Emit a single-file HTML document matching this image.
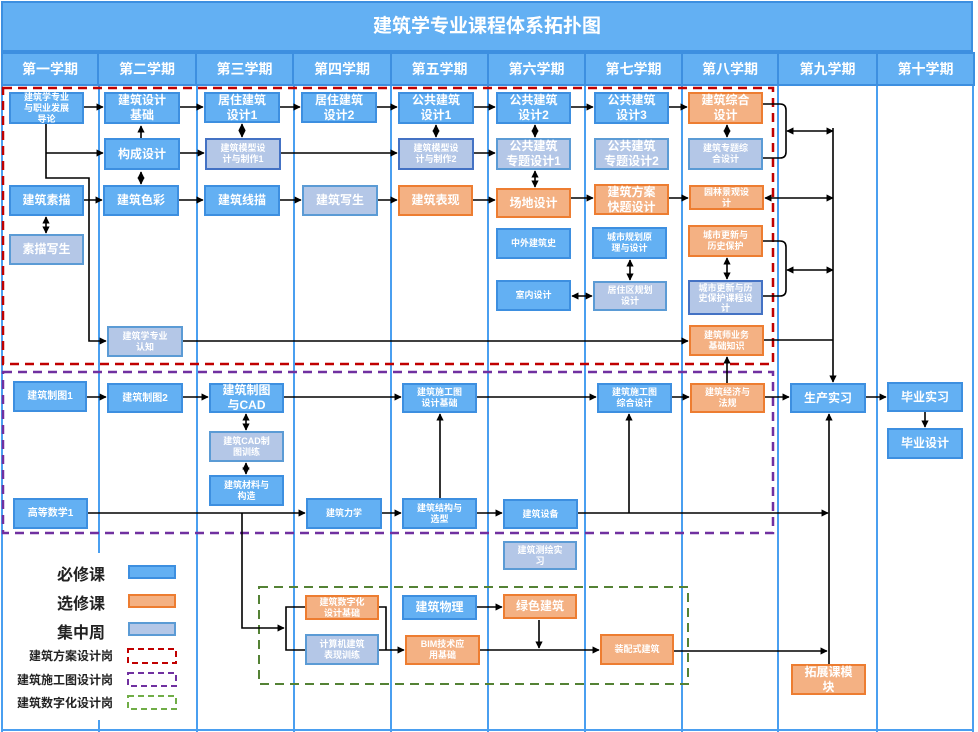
<!DOCTYPE html>
<html><head><meta charset="utf-8"><style>
*{margin:0;padding:0;box-sizing:border-box}
body{width:978px;height:732px;background:#fff;position:relative;overflow:hidden;font-family:"Liberation Sans","Noto Sans CJK SC",sans-serif}
.t{position:absolute;left:1px;top:1px;width:972px;height:51px;background:#63b0f3;border:2px solid #3d8fe0;color:#fff;font-weight:bold;font-size:19px;text-align:center;line-height:47px}
.h{position:absolute;top:52px;height:34px;background:#63b0f3;border:2px solid #3d8fe0;color:#fff;font-weight:bold;font-size:14px;text-align:center;line-height:30px}
.c{position:absolute;top:86px;height:646px;border-left:2px solid #4a9ff0}
.b{position:absolute;display:flex;align-items:center;justify-content:center;text-align:center;color:#fff;font-weight:bold;font-size:12px;line-height:15px;border:2px solid #3d8fe0;background:#63b0f3}
.o{background:#f4b183;border-color:#ed7d31}
.l{background:#b4c7e7;border-color:#5b9bd5}
.s{font-size:9px;line-height:11px}
.m{font-size:10px;line-height:13px}
.lg{position:absolute;font-weight:bold;color:#222;text-align:right}
</style></head><body>
<div class="t">建筑学专业课程体系拓扑图</div>
<div class="h" style="left:1px;width:98px">第一学期</div>
<div class="h" style="left:97px;width:100px">第二学期</div>
<div class="h" style="left:195px;width:99px">第三学期</div>
<div class="h" style="left:292px;width:100px">第四学期</div>
<div class="h" style="left:390px;width:99px">第五学期</div>
<div class="h" style="left:487px;width:99px">第六学期</div>
<div class="h" style="left:584px;width:99px">第七学期</div>
<div class="h" style="left:681px;width:98px">第八学期</div>
<div class="h" style="left:777px;width:101px">第九学期</div>
<div class="h" style="left:876px;width:99px">第十学期</div>
<div class="c" style="left:1px"></div>
<div class="c" style="left:98px"></div>
<div class="c" style="left:196px"></div>
<div class="c" style="left:293px"></div>
<div class="c" style="left:390px"></div>
<div class="c" style="left:487px"></div>
<div class="c" style="left:584px"></div>
<div class="c" style="left:681px"></div>
<div class="c" style="left:777px"></div>
<div class="c" style="left:876px"></div>
<div class="c" style="left:972px"></div>
<div style="position:absolute;left:96px;top:553px;width:6px;height:167px;background:#fff"></div>
<div style="position:absolute;left:1px;top:729px;width:973px;border-top:2px solid #4a9ff0"></div>

<svg width="978" height="732" style="position:absolute;left:0;top:0">
<rect x="3" y="88" width="770" height="276" fill="none" stroke="#c00000" stroke-width="2.5" stroke-dasharray="9,6"/>
<rect x="3" y="372" width="770" height="161" fill="none" stroke="#7030a0" stroke-width="2.5" stroke-dasharray="9,6"/>
<rect x="259" y="587" width="429" height="97" fill="none" stroke="#548235" stroke-width="2" stroke-dasharray="9,6"/>
</svg>

<div class="b s" style="left:9px;top:92px;width:75px;height:32px">建筑学专业<br>与职业发展<br>导论</div>
<div class="b" style="left:104px;top:92px;width:76px;height:32px">建筑设计<br>基础</div>
<div class="b" style="left:204px;top:92px;width:76px;height:31px">居住建筑<br>设计1</div>
<div class="b" style="left:301px;top:92px;width:76px;height:31px">居住建筑<br>设计2</div>
<div class="b" style="left:398px;top:92px;width:76px;height:32px">公共建筑<br>设计1</div>
<div class="b" style="left:496px;top:92px;width:75px;height:32px">公共建筑<br>设计2</div>
<div class="b" style="left:594px;top:92px;width:75px;height:32px">公共建筑<br>设计3</div>
<div class="b o" style="left:688px;top:92px;width:75px;height:32px">建筑综合<br>设计</div>
<div class="b" style="left:104px;top:138px;width:76px;height:32px">构成设计</div>
<div class="b l s" style="left:205px;top:138px;width:76px;height:32px;border-color:#4472c4">建筑模型设<br>计与制作1</div>
<div class="b l s" style="left:398px;top:138px;width:76px;height:32px;border-color:#4472c4">建筑模型设<br>计与制作2</div>
<div class="b l" style="left:496px;top:138px;width:75px;height:32px">公共建筑<br>专题设计1</div>
<div class="b l" style="left:594px;top:138px;width:75px;height:32px">公共建筑<br>专题设计2</div>
<div class="b l s" style="left:688px;top:138px;width:75px;height:32px">建筑专题综<br>合设计</div>
<div class="b" style="left:9px;top:185px;width:75px;height:31px">建筑素描</div>
<div class="b" style="left:103px;top:185px;width:76px;height:31px">建筑色彩</div>
<div class="b" style="left:204px;top:185px;width:76px;height:31px">建筑线描</div>
<div class="b l" style="left:302px;top:185px;width:76px;height:31px">建筑写生</div>
<div class="b o" style="left:398px;top:185px;width:75px;height:31px">建筑表现</div>
<div class="b o" style="left:496px;top:188px;width:75px;height:30px">场地设计</div>
<div class="b o" style="left:594px;top:184px;width:75px;height:31px">建筑方案<br>快题设计</div>
<div class="b o s" style="left:689px;top:185px;width:75px;height:25px">园林景观设<br>计</div>
<div class="b l" style="left:9px;top:234px;width:75px;height:31px">素描写生</div>
<div class="b s" style="left:496px;top:228px;width:75px;height:31px">中外建筑史</div>
<div class="b s" style="left:592px;top:227px;width:75px;height:32px">城市规划原<br>理与设计</div>
<div class="b o s" style="left:688px;top:225px;width:75px;height:32px">城市更新与<br>历史保护</div>
<div class="b s" style="left:496px;top:280px;width:75px;height:31px">室内设计</div>
<div class="b l s" style="left:593px;top:281px;width:74px;height:30px">居住区规划<br>设计</div>
<div class="b l s" style="left:688px;top:280px;width:75px;height:35px;border-color:#4472c4;line-height:10px">城市更新与历<br>史保护课程设<br>计</div>
<div class="b l s" style="left:107px;top:326px;width:76px;height:31px">建筑学专业<br>认知</div>
<div class="b o s" style="left:689px;top:325px;width:75px;height:31px">建筑师业务<br>基础知识</div>

<div class="b m" style="left:13px;top:381px;width:74px;height:31px">建筑制图1</div>
<div class="b m" style="left:107px;top:383px;width:76px;height:30px">建筑制图2</div>
<div class="b" style="left:209px;top:383px;width:75px;height:30px">建筑制图<br>与CAD</div>
<div class="b s" style="left:402px;top:383px;width:75px;height:30px">建筑施工图<br>设计基础</div>
<div class="b s" style="left:597px;top:383px;width:75px;height:30px">建筑施工图<br>综合设计</div>
<div class="b o s" style="left:690px;top:383px;width:75px;height:30px">建筑经济与<br>法规</div>
<div class="b" style="left:790px;top:383px;width:76px;height:30px">生产实习</div>
<div class="b" style="left:887px;top:382px;width:76px;height:30px">毕业实习</div>
<div class="b" style="left:887px;top:428px;width:76px;height:31px">毕业设计</div>
<div class="b l s" style="left:209px;top:431px;width:75px;height:31px">建筑CAD制<br>图训练</div>
<div class="b s" style="left:209px;top:475px;width:75px;height:31px">建筑材料与<br>构造</div>
<div class="b m" style="left:13px;top:498px;width:75px;height:31px">高等数学1</div>
<div class="b s" style="left:306px;top:498px;width:76px;height:31px">建筑力学</div>
<div class="b s" style="left:402px;top:498px;width:75px;height:31px">建筑结构与<br>选型</div>
<div class="b s" style="left:503px;top:499px;width:75px;height:30px">建筑设备</div>
<div class="b l s" style="left:503px;top:541px;width:74px;height:29px">建筑测绘实<br>习</div>
<div class="b o s" style="left:305px;top:595px;width:74px;height:25px">建筑数字化<br>设计基础</div>
<div class="b" style="left:402px;top:595px;width:75px;height:25px">建筑物理</div>
<div class="b o" style="left:503px;top:594px;width:74px;height:25px">绿色建筑</div>
<div class="b l s" style="left:305px;top:634px;width:74px;height:31px">计算机建筑<br>表现训练</div>
<div class="b o s" style="left:405px;top:635px;width:75px;height:30px">BIM技术应<br>用基础</div>
<div class="b o s" style="left:600px;top:634px;width:74px;height:31px">装配式建筑</div>
<div class="b o" style="left:791px;top:664px;width:75px;height:31px">拓展课模<br>块</div>

<div class="lg" style="left:20px;top:561px;width:85px;font-size:16px">必修课</div>
<div class="lg" style="left:20px;top:590px;width:85px;font-size:16px">选修课</div>
<div class="lg" style="left:20px;top:619px;width:85px;font-size:16px">集中周</div>
<div class="lg" style="left:0;top:647px;width:113px;font-size:12px">建筑方案设计岗</div>
<div class="lg" style="left:0;top:671px;width:113px;font-size:12px">建筑施工图设计岗</div>
<div class="lg" style="left:0;top:694px;width:113px;font-size:12px">建筑数字化设计岗</div>
<div class="b" style="left:128px;top:565px;width:48px;height:14px"></div>
<div class="b o" style="left:128px;top:594px;width:48px;height:14px"></div>
<div class="b l" style="left:128px;top:622px;width:48px;height:14px"></div>

<svg width="978" height="732" style="position:absolute;left:0;top:0">
<defs><marker id="a" viewBox="0 0 10 10" refX="9" refY="5" markerWidth="4.5" markerHeight="4.5" orient="auto-start-reverse"><path d="M0,0L10,5L0,10z" fill="#000"/></marker></defs>
<rect x="128" y="649" width="48" height="14" fill="none" stroke="#c00000" stroke-width="2" stroke-dasharray="6,4"/>
<rect x="128" y="673" width="48" height="13" fill="none" stroke="#7030a0" stroke-width="2" stroke-dasharray="6,4"/>
<rect x="128" y="696" width="48" height="13" fill="none" stroke="#70ad47" stroke-width="2" stroke-dasharray="6,4"/>
<g stroke="#000" stroke-width="1.6" fill="none">
<path d="M84,107H103" marker-end="url(#a)"/><path d="M180,107H203" marker-end="url(#a)"/><path d="M280,107H300" marker-end="url(#a)"/><path d="M377,107H397" marker-end="url(#a)"/><path d="M474,107H495" marker-end="url(#a)"/><path d="M571,107H593" marker-end="url(#a)"/><path d="M669,107H687" marker-end="url(#a)"/>
<path d="M46,124V178H89V341H106" marker-end="url(#a)"/><path d="M46,153H103" marker-end="url(#a)"/>
<path d="M183,341H688" marker-end="url(#a)"/><path d="M764,340H833"/>
<path d="M141,138V126" marker-end="url(#a)"/><path d="M141,172V184" marker-start="url(#a)" marker-end="url(#a)"/>
<path d="M180,153H204" marker-end="url(#a)"/><path d="M281,153H397" marker-end="url(#a)"/><path d="M474,153H495" marker-end="url(#a)"/>
<path d="M84,200H102" marker-end="url(#a)"/><path d="M179,200H203" marker-end="url(#a)"/><path d="M280,200H301" marker-end="url(#a)"/><path d="M378,200H397" marker-end="url(#a)"/><path d="M473,200H495" marker-end="url(#a)"/><path d="M571,198H593" marker-end="url(#a)"/><path d="M669,198H688" marker-end="url(#a)"/>
<path d="M46,217V233" marker-start="url(#a)" marker-end="url(#a)"/>
<path d="M242,124V137" marker-start="url(#a)" marker-end="url(#a)"/><path d="M436,125V137" marker-start="url(#a)" marker-end="url(#a)"/><path d="M535,125V137" marker-start="url(#a)" marker-end="url(#a)"/><path d="M535,171V187" marker-start="url(#a)" marker-end="url(#a)"/><path d="M727,125V137" marker-start="url(#a)" marker-end="url(#a)"/>
<path d="M630,260V280" marker-start="url(#a)" marker-end="url(#a)"/><path d="M572,296H592" marker-start="url(#a)" marker-end="url(#a)"/><path d="M727,258V279" marker-start="url(#a)" marker-end="url(#a)"/>
<path d="M763,104H780Q786,104 786,110V152Q786,158 780,158H763"/><path d="M787,131H833" marker-start="url(#a)" marker-end="url(#a)"/>
<path d="M765,198H833" marker-start="url(#a)" marker-end="url(#a)"/>
<path d="M763,241H780Q786,241 786,247V290Q786,296 780,296H763"/><path d="M787,270H833" marker-start="url(#a)" marker-end="url(#a)"/>
<path d="M833,128V382" marker-end="url(#a)"/>
<path d="M727,383V357" marker-end="url(#a)"/>
<path d="M87,397H106" marker-end="url(#a)"/><path d="M183,397H208" marker-end="url(#a)"/><path d="M284,397H401" marker-end="url(#a)"/><path d="M477,397H596" marker-end="url(#a)"/><path d="M672,397H689" marker-end="url(#a)"/><path d="M765,397H789" marker-end="url(#a)"/><path d="M866,397H886" marker-end="url(#a)"/><path d="M925,412V427" marker-end="url(#a)"/>
<path d="M246,414V430" marker-start="url(#a)" marker-end="url(#a)"/><path d="M246,463V474" marker-start="url(#a)" marker-end="url(#a)"/>
<path d="M88,513H305" marker-end="url(#a)"/><path d="M382,513H401" marker-end="url(#a)"/><path d="M477,513H502" marker-end="url(#a)"/><path d="M578,513H828" marker-end="url(#a)"/>
<path d="M440,498V414" marker-end="url(#a)"/><path d="M629,513V414" marker-end="url(#a)"/>
<path d="M242,513V628H284" marker-end="url(#a)"/><path d="M305,607H286V650H305"/>
<path d="M379,607H386V650"/><path d="M379,650H404" marker-end="url(#a)"/>
<path d="M477,607H502" marker-end="url(#a)"/><path d="M539,620V648" marker-end="url(#a)"/><path d="M480,650H599" marker-end="url(#a)"/><path d="M674,651H827" marker-end="url(#a)"/>
<path d="M829,664V414" marker-end="url(#a)"/>
</g></svg>
</body></html>
